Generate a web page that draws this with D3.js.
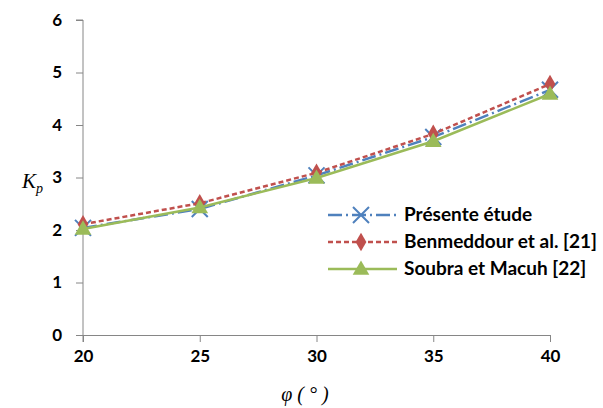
<!DOCTYPE html>
<html>
<head>
<meta charset="utf-8">
<script src="https://cdn.jsdelivr.net/npm/d3@7"></script>
<style>
  body { margin: 0; background: #fff; }
  svg { display: block; }
</style>
</head>
<body>
<div id="chart"></div>
<script>
var phi = [20, 25, 30, 35, 40];
var presente = [2.04, 2.40, 3.04, 3.77, 4.67];
var benmeddour = [2.11, 2.51, 3.09, 3.83, 4.78];
var soubra = [2.02, 2.43, 2.99, 3.69, 4.59];
var yTicks = [0, 1, 2, 3, 4, 5, 6];
var names = ["Présente étude", "Benmeddour et al. [21]", "Soubra et Macuh [22]"];

var width = 603, height = 408;
var svg = d3.select("#chart").append("svg")
  .attr("width", width)
  .attr("height", height);

var x = d3.scaleLinear().domain([20, 40]).range([83, 550]);
var y = d3.scaleLinear().domain([0, 6]).range([335, 20]);

var axisColor = "#868686";
var labelFont = "Lato, sans-serif";

// y axis
var yAxis = svg.append("g")
  .attr("transform", "translate(" + x(20) + ",0)")
  .call(d3.axisLeft(y).tickValues(yTicks).tickFormat(d3.format("d")).tickSize(7).tickPadding(14));
// x axis
var xAxis = svg.append("g")
  .attr("transform", "translate(0," + y(0) + ")")
  .call(d3.axisBottom(x).tickValues(phi).tickFormat(d3.format("d")).tickSize(7).tickPadding(8));

[yAxis, xAxis].forEach(function (g) {
  g.attr("font-family", labelFont).attr("font-size", 17);
  g.select(".domain").attr("stroke", axisColor).attr("stroke-width", 1);
  g.selectAll(".tick line").attr("stroke", axisColor);
  g.selectAll(".tick text")
    .attr("fill", "#000")
    .attr("font-weight", "bold");
});
// y axis extends down to the x tick
yAxis.select(".domain").attr("d", "M-7," + y(6) + "H0V" + (y(0) + 7));

var series = [
  { values: presente, color: "#4F81BD", dash: "14,4,2,4", marker: "cross" },
  { values: benmeddour, color: "#C0504D", dash: "5,3", marker: "diamond" },
  { values: soubra, color: "#9BBB59", dash: null, marker: "triangle" }
];

var line = d3.line()
  .x(function (d, i) { return x(phi[i]); })
  .y(function (d) { return y(d); });

function drawMarker(g, type, color, cx, cy) {
  if (type === "cross") {
    var r = 8;
    g.append("path")
      .attr("d", "M" + (cx - r) + "," + (cy - r) + "L" + (cx + r) + "," + (cy + r) +
        "M" + (cx - r) + "," + (cy + r) + "L" + (cx + r) + "," + (cy - r))
      .attr("stroke", color).attr("stroke-width", 2).attr("fill", "none");
  } else if (type === "diamond") {
    g.append("path")
      .attr("d", d3.symbol().type(d3.symbolDiamond).size(100)())
      .attr("transform", "translate(" + cx + "," + cy + ")")
      .attr("fill", color);
  } else {
    g.append("path")
      .attr("d", d3.symbol().type(d3.symbolTriangle).size(120)())
      .attr("transform", "translate(" + cx + "," + (cy + 1) + ")")
      .attr("fill", color);
  }
}

series.forEach(function (s) {
  var g = svg.append("g");
  g.append("path")
    .datum(s.values)
    .attr("d", line)
    .attr("fill", "none")
    .attr("stroke", s.color)
    .attr("stroke-width", 2.5)
    .attr("stroke-dasharray", s.dash);
  s.values.forEach(function (v, i) {
    drawMarker(g, s.marker, s.color, x(phi[i]), y(v));
  });
});

// legend
var legend = svg.append("g");
series.forEach(function (s, i) {
  var ly = 215 + i * 27;
  legend.append("line")
    .attr("x1", 328).attr("x2", 397)
    .attr("y1", ly).attr("y2", ly)
    .attr("stroke", s.color)
    .attr("stroke-width", 2.5)
    .attr("stroke-dasharray", s.dash);
  drawMarker(legend, s.marker, s.color, 361, ly);
  legend.append("text")
    .attr("x", 404).attr("y", ly + 6)
    .text(names[i])
    .attr("font-family", labelFont)
    .attr("font-weight", "bold")
    .attr("font-size", 19);
});

// axis titles
var yl = svg.append("text")
  .attr("x", 22).attr("y", 188)
  .attr("font-family", "'Liberation Serif', serif")
  .attr("font-style", "italic")
  .attr("font-size", 21);
yl.append("tspan").text("K");
yl.append("tspan").text("p").attr("dy", 5).attr("font-size", 14);

svg.append("text")
  .attr("x", 305).attr("y", 401)
  .attr("text-anchor", "middle")
  .attr("font-family", "'Liberation Serif', serif")
  .attr("font-style", "italic")
  .attr("font-size", 20)
  .attr("xml:space", "preserve")
  .text("φ ( ° )");
</script>
</body>
</html>
